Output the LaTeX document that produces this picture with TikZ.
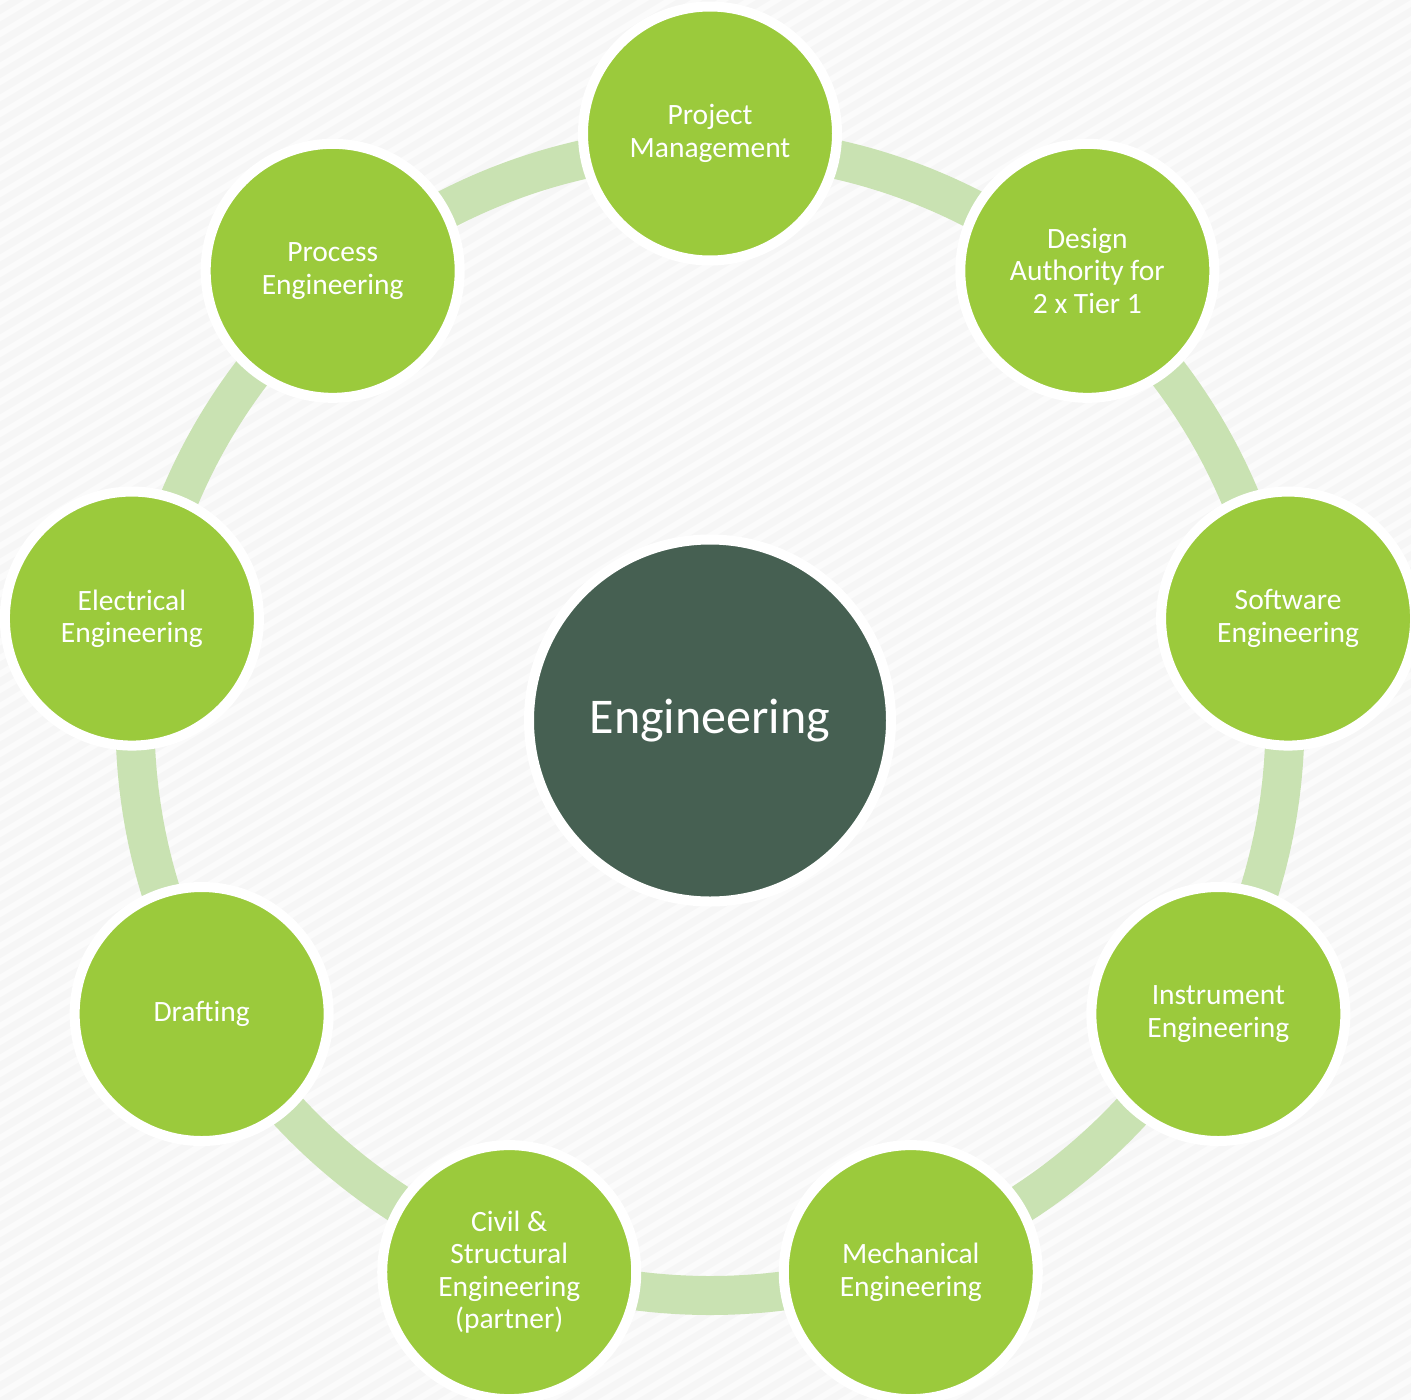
\documentclass[tikz,border=0pt]{standalone}
\usepackage{fontspec}
\setmainfont{Carlito}
\definecolor{bgc}{HTML}{F6F6F6}
\definecolor{stripec}{HTML}{FBFBFB}
\definecolor{leaf}{HTML}{9BCA3C}
\definecolor{hubc}{HTML}{466052}
\definecolor{ringc}{HTML}{C9E2B2}
\begin{document}
\begin{tikzpicture}[x=1pt,y=-1pt,
  sat/.style={circle, fill=leaf, draw=white, line width=10pt, minimum size=254pt, inner sep=0pt, text=white, align=center, font=\fontsize{29.5}{32.5}\selectfont},
  hub/.style={circle, fill=hubc, draw=white, line width=10pt, minimum size=362pt, inner sep=0pt, text=white, align=center, font=\fontsize{50}{56}\selectfont},
  ringline/.style={draw=ringc, line width=39pt}]
  % background
  \fill[bgc] (0,0) rectangle (1411,1400);
  \useasboundingbox (0,0) rectangle (1411,1400);
  \begin{scope}
    \clip (0,0) rectangle (1411,1400);
    \foreach \c in {0,16,...,2400} {
      \draw[stripec, line width=6pt] (-50,\c) -- (1461,{\c-1511*0.6});
    }
  \end{scope}
  % ring
  \coordinate (ctr) at (710,720.5);
  \draw[ringline] (ctr) circle[radius=575pt];
  % hub
  \node[hub] (eng) at (ctr) {Engineering};
  % satellites
  \node[sat] (pm)   at ({710+587*cos(90)},{720.5-587*sin(90)})   {Project\\Management};
  \node[sat] (da)   at ({710+587*cos(50)},{720.5-587*sin(50)})   {Design\\Authority for\\2 x Tier 1};
  \node[sat] (sw)   at ({710+587*cos(10)},{720.5-587*sin(10)})   {Software\\Engineering};
  \node[sat] (ins)  at ({710+587*cos(-30)},{720.5-587*sin(-30)}) {Instrument\\Engineering};
  \node[sat] (mech) at ({710+587*cos(-70)},{720.5-587*sin(-70)}) {Mechanical\\Engineering};
  \node[sat] (civ)  at ({710+587*cos(-110)},{720.5-587*sin(-110)}) {Civil \&\\Structural\\Engineering\\(partner)};
  \node[sat] (dra)  at ({710+587*cos(-150)},{720.5-587*sin(-150)}) {Drafting};
  \node[sat] (ele)  at ({710+587*cos(170)},{720.5-587*sin(170)}) {Electrical\\Engineering};
  \node[sat] (pro)  at ({710+587*cos(130)},{720.5-587*sin(130)}) {Process\\Engineering};
\end{tikzpicture}
\end{document}
